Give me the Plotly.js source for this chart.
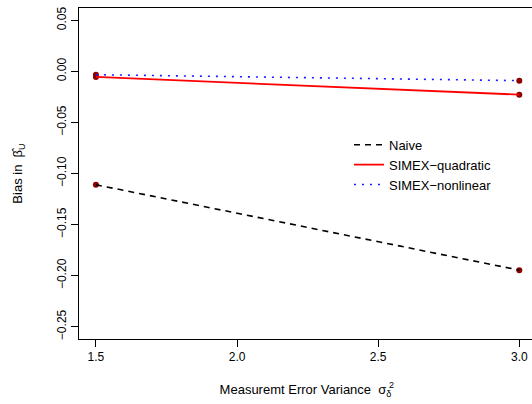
<!DOCTYPE html>
<html>
<head>
<meta charset="utf-8">
<script src="https://cdn.plot.ly/plotly-3.0.1.min.js"></script>
<style>
  html, body { margin: 0; padding: 0; background: #ffffff; }
  #chart { width: 532px; height: 404px; }
</style>
</head>
<body>
<div id="chart"></div>
<script>
// Measurement error variances on the x axis
const variances = [1.5, 3.0];

// Bias of the estimated coefficient for each method
const seriesNames = ["Naive", "SIMEX\u2212quadratic", "SIMEX\u2212nonlinear"];
const naiveBias = [-0.111, -0.1946];
const quadraticBias = [-0.0055, -0.0228];
const nonlinearBias = [-0.0033, -0.0091];

// Axis ticks
const xTicks = [1.5, 2.0, 2.5, 3.0];
const xTickLabels = ["1.5", "2.0", "2.5", "3.0"];
const yTicks = [0.05, 0.00, -0.05, -0.10, -0.15, -0.20, -0.25];
const yTickLabels = ["0.05", "0.00", "\u22120.05", "\u22120.10", "\u22120.15", "\u22120.20", "\u22120.25"];

const FONT = "Liberation Sans, Arial, Helvetica, sans-serif";
const pointColor = "#8b0000";

const lineStyles = [
  { color: "#000000", width: 1.6, dash: "6px,5px" },
  { color: "#ff0000", width: 1.8, dash: "solid" },
  { color: "#1a1aff", width: 1.6, dash: "2px,6px" }
];
const allBias = [naiveBias, quadraticBias, nonlinearBias];

const traces = [];
// endpoint markers (drawn beneath the lines)
allBias.forEach((ys) => {
  traces.push({
    x: variances, y: ys, type: "scatter", mode: "markers",
    marker: { color: pointColor, size: 6 },
    showlegend: false, hoverinfo: "skip"
  });
});
// method lines with legend entries
allBias.forEach((ys, i) => {
  traces.push({
    x: variances, y: ys, type: "scatter", mode: "lines",
    name: seriesNames[i],
    line: lineStyles[i]
  });
});

const layout = {
  width: 532, height: 404,
  margin: { l: 79, r: 0, t: 7.5, b: 65, pad: 0 },
  paper_bgcolor: "#ffffff", plot_bgcolor: "#ffffff",
  font: { family: FONT, size: 12, color: "#000000" },
  showlegend: true,
  legend: {
    x: 0.596, y: 0.632, xanchor: "left", yanchor: "top",
    bgcolor: "rgba(0,0,0,0)", borderwidth: 0,
    font: { family: FONT, size: 13, color: "#000000" },
    tracegroupgap: 0, itemwidth: 30
  },
  xaxis: {
    range: [1.44, 3.045], showgrid: false, zeroline: false,
    showline: true, linecolor: "#000000", linewidth: 1, mirror: true,
    ticks: "outside", ticklen: 7, tickcolor: "#000000", tickwidth: 1,
    tickvals: xTicks, ticktext: xTickLabels,
    tickfont: { family: FONT, size: 12 },
    title: { text: "Measuremt Error Variance  \u03c3<sub>\u03b4</sub>", font: { family: FONT, size: 13 }, standoff: 21 }
  },
  yaxis: {
    range: [-0.262, 0.062], showgrid: false, zeroline: false,
    showline: true, linecolor: "#000000", linewidth: 1,
    ticks: "outside", ticklen: 7, tickcolor: "#000000", tickwidth: 1,
    tickvals: yTicks, ticktext: yTickLabels, tickangle: -90,
    tickfont: { family: FONT, size: 12 },
    title: { text: "Bias in  \u03b2\u0302<sub>U</sub>", font: { family: FONT, size: 13 }, standoff: 29 }
  },
  annotations: [
    { xref: "paper", yref: "paper", x: 0.68, y: -0.1388, xanchor: "left", yanchor: "middle",
      text: "2", showarrow: false, font: { family: FONT, size: 9 } }
  ]
};

Plotly.newPlot("chart", traces, layout, { displayModeBar: false, staticPlot: true });
</script>
</body>
</html>
